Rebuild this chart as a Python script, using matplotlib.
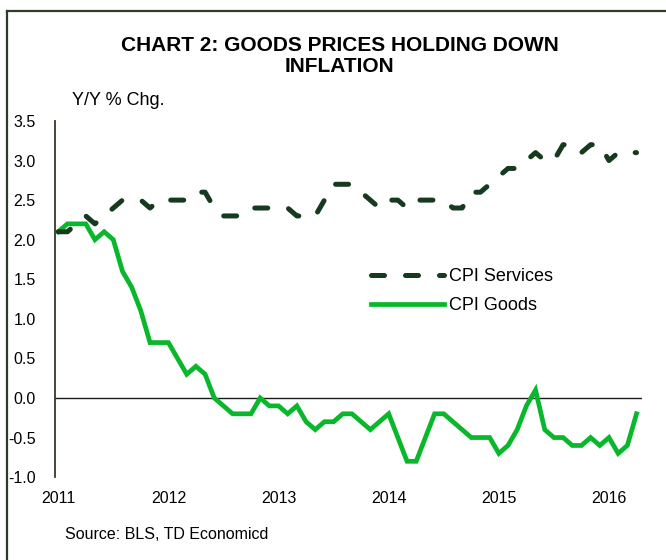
import matplotlib
matplotlib.use("Agg")
import matplotlib.pyplot as plt
from matplotlib.lines import Line2D

plt.rcParams['font.family'] = ['Liberation Sans', 'DejaVu Sans']

# Monthly data, Jan 2011 - Apr 2016
years = ['2011', '2012', '2013', '2014', '2015', '2016']
cpi_services = [2.1, 2.1, 2.2, 2.3, 2.2, 2.3, 2.4, 2.5, 2.5, 2.5, 2.4, 2.5,
                2.5, 2.5, 2.5, 2.6, 2.6, 2.4, 2.3, 2.3, 2.3, 2.4, 2.4, 2.4,
                2.4, 2.4, 2.3, 2.3, 2.3, 2.5, 2.7, 2.7, 2.7, 2.6, 2.5, 2.4,
                2.5, 2.5, 2.4, 2.5, 2.5, 2.5, 2.5, 2.4, 2.4, 2.6, 2.6, 2.7,
                2.8, 2.9, 2.9, 3.0, 3.1, 3.0, 3.0, 3.2, 3.2, 3.1, 3.2, 3.2,
                3.0, 3.1, 3.1, 3.1]
cpi_goods = [2.1, 2.2, 2.2, 2.2, 2.0, 2.1, 2.0, 1.6, 1.4, 1.1, 0.7, 0.7,
             0.7, 0.5, 0.3, 0.4, 0.3, 0.0, -0.1, -0.2, -0.2, -0.2, 0.0, -0.1,
             -0.1, -0.2, -0.1, -0.3, -0.4, -0.3, -0.3, -0.2, -0.2, -0.3, -0.4, -0.3,
             -0.2, -0.5, -0.8, -0.8, -0.5, -0.2, -0.2, -0.3, -0.4, -0.5, -0.5, -0.5,
             -0.7, -0.6, -0.4, -0.1, 0.1, -0.4, -0.5, -0.5, -0.6, -0.6, -0.5, -0.6,
             -0.5, -0.7, -0.6, -0.2]
y_ticks = [-1.0, -0.5, 0.0, 0.5, 1.0, 1.5, 2.0, 2.5, 3.0, 3.5]

DARK = '#153a1e'
BRIGHT = '#08b82a'
FRAME = '#2f3d26'

fig = plt.figure(figsize=(6.66, 5.6), dpi=100)
ax = fig.add_axes([0.0826, 0.148, 0.8814, 0.636])

x = list(range(len(cpi_goods)))
ax.axhline(0, color='#1a1a1a', lw=1.0, zorder=1)
ax.plot(x, cpi_services, color=DARK, lw=3.6, dashes=(2.6, 4.2),
        dash_capstyle='round', solid_capstyle='round', zorder=3, label='CPI Services')
ax.plot(x, cpi_goods, color=BRIGHT, lw=3.4, solid_joinstyle='miter', zorder=2,
        label='CPI Goods')

ax.set_xlim(-0.35, 63.6)
ax.set_ylim(-1.0, 3.5)
ax.set_yticks(y_ticks)
ax.set_yticklabels([f'{v:.1f}' for v in y_ticks], fontsize=11.5)
ax.set_xticks([12 * i for i in range(len(years))])
ax.set_xticklabels(years, fontsize=11.5)
ax.tick_params(axis='both', length=0, colors='black')
ax.tick_params(axis='y', pad=14)
ax.tick_params(axis='x', pad=10)
for s in ['top', 'right', 'bottom']:
    ax.spines[s].set_visible(False)
ax.spines['left'].set_color(FRAME)
ax.spines['left'].set_linewidth(1.3)

leg = ax.legend(loc='upper left', bbox_to_anchor=(0.51, 0.632), frameon=False,
                fontsize=13, handlelength=4.05, handletextpad=0.3, labelspacing=0.65)

fig.text(0.51, 0.9, 'CHART 2: GOODS PRICES HOLDING DOWN\nINFLATION', ha='center',
         va='center', fontsize=15, fontweight='bold', linespacing=1.08)
fig.text(0.108, 0.82, 'Y/Y % Chg.', ha='left', va='center', fontsize=13)
fig.text(0.098, 0.045, 'Source: BLS, TD Economicd', ha='left', va='center', fontsize=11.5)

# frame
fig.add_artist(Line2D([0.0105, 0.0105], [0.0, 0.981], transform=fig.transFigure,
                      color=FRAME, lw=1.6))
fig.add_artist(Line2D([0.0105, 1.0], [0.981, 0.981], transform=fig.transFigure,
                      color=FRAME, lw=1.6))

fig.savefig('out.png', dpi=100)
